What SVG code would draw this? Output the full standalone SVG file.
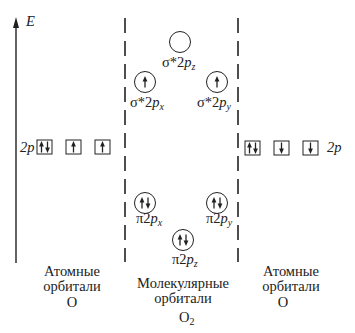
<svg xmlns="http://www.w3.org/2000/svg" width="355" height="333" viewBox="0 0 355 333" font-family="'Liberation Serif', 'DejaVu Serif', serif">
<style>
text{font-family:"Liberation Serif","DejaVu Serif",serif;font-size:14.5px;fill:#222}
.i{font-style:italic}
.s{font-size:10px;font-style:italic}
.c{text-anchor:middle}
.orb{fill:none;stroke:#222;stroke-width:1}
.dash{stroke:#222;stroke-width:1.6;stroke-dasharray:15 8;fill:none}
</style>
<defs>
<g id="up"><line x1="0" y1="5.5" x2="0" y2="-1" stroke="#222" stroke-width="1.3"/><polygon points="-2.4,-0.5 2.4,-0.5 0,-6" fill="#222"/></g>
<g id="dn"><line x1="0" y1="-5.5" x2="0" y2="1" stroke="#222" stroke-width="1.3"/><polygon points="-2.4,0.5 2.4,0.5 0,6" fill="#222"/></g>
</defs>
<g id="axis">
<line x1="16" y1="24" x2="16" y2="263" stroke="#222" stroke-width="1.4"/>
<polygon points="16,17 13,28 19,28" fill="#222"/>
<text x="26" y="26" class="i">E</text>
</g>
<g id="connectors">
<line class="dash" x1="125" y1="18" x2="125" y2="262"/>
<line class="dash" x1="238" y1="18" x2="238" y2="262"/>
</g>
<g id="ao-left">
<text x="20" y="152" class="i">2p</text>
<rect class="orb" x="37" y="140" width="15" height="14"/>
<use href="#up" x="41.5" y="147"/><use href="#dn" x="47.5" y="147"/>
<rect class="orb" x="66" y="140" width="15" height="14"/>
<use href="#up" x="73.5" y="147"/>
<rect class="orb" x="95" y="140" width="15" height="14"/>
<use href="#up" x="102.5" y="147"/>
</g>
<g id="ao-right">
<rect class="orb" x="245" y="141" width="15" height="14"/>
<use href="#up" x="249.5" y="148"/><use href="#dn" x="255.5" y="148"/>
<rect class="orb" x="274" y="141" width="15" height="14"/>
<use href="#dn" x="281.5" y="148"/>
<rect class="orb" x="303" y="141" width="15" height="14"/>
<use href="#dn" x="310.5" y="148"/>
<text x="327" y="152" class="i">2p</text>
</g>
<g id="sigma-z">
<circle class="orb" cx="180" cy="42" r="10.5"/>
<text x="162" y="67">σ*2<tspan class="i">p</tspan><tspan class="s" dy="3">z</tspan></text>
</g>
<g id="sigma-x">
<circle class="orb" cx="145" cy="82" r="10.5"/>
<use href="#up" x="145" y="82"/>
<text x="130" y="107">σ*2<tspan class="i">p</tspan><tspan class="s" dy="3">x</tspan></text>
</g>
<g id="sigma-y">
<circle class="orb" cx="217" cy="82" r="10.5"/>
<use href="#up" x="217" y="82"/>
<text x="197" y="107">σ*2<tspan class="i">p</tspan><tspan class="s" dy="3">y</tspan></text>
</g>
<g id="pi-x">
<circle class="orb" cx="145" cy="203" r="10.5"/>
<use href="#up" x="142" y="203"/><use href="#dn" x="148" y="203"/>
<text x="136" y="223">π2<tspan class="i">p</tspan><tspan class="s" dy="3">x</tspan></text>
</g>
<g id="pi-y">
<circle class="orb" cx="217" cy="203" r="10.5"/>
<use href="#up" x="214" y="203"/><use href="#dn" x="220" y="203"/>
<text x="206" y="223">π2<tspan class="i">p</tspan><tspan class="s" dy="3">y</tspan></text>
</g>
<g id="pi-z">
<circle class="orb" cx="183" cy="240" r="10.5"/>
<use href="#up" x="180" y="240"/><use href="#dn" x="186" y="240"/>
<text x="172" y="264">π2<tspan class="i">p</tspan><tspan class="s" dy="3">z</tspan></text>
</g>
<g id="label-left">
<text x="72" y="276" class="c">Атомные</text>
<text x="72" y="291" class="c">орбитали</text>
<text x="72" y="307" class="c">O</text>
</g>
<g id="label-mid">
<text x="183" y="288" class="c">Молекулярные</text>
<text x="183" y="303" class="c">орбитали</text>
<text x="179" y="322">O<tspan font-size="10" dy="3">2</tspan></text>
</g>
<g id="label-right">
<text x="291" y="276" class="c">Атомные</text>
<text x="291" y="291" class="c">орбитали</text>
<text x="283" y="307" class="c">O</text>
</g>
</svg>
